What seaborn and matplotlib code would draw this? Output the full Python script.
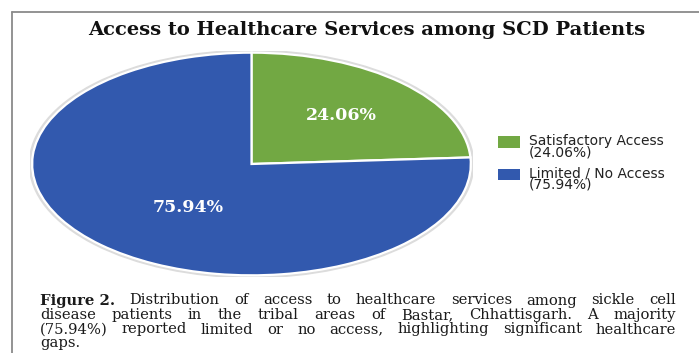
import matplotlib
matplotlib.use("Agg")
import matplotlib.pyplot as plt
from matplotlib.lines import Line2D
from matplotlib.patches import Ellipse, Patch, Rectangle
from matplotlib.legend_handler import HandlerPatch
import seaborn as sns

# Data
categories = ["Satisfactory Access", "Limited / No Access"]
shares = [24.06, 75.94]
title = "Access to Healthcare Services among SCD Patients"
caption_lines = [
    [("Figure 2.", "bold"), ("Distribution of access to healthcare services among sickle cell", "normal")],
    [("disease patients in the tribal areas of Bastar, Chhattisgarh. A majority", "normal")],
    [("(75.94%) reported limited or no access, highlighting significant healthcare", "normal")],
    [("gaps.", "normal")],
]

sns.set_theme(style="white")
plt.rcParams["font.family"] = ["DejaVu Serif"]
colors = sns.color_palette(["#72A843", "#3259AE"])

W, H = 699, 353
fig = plt.figure(figsize=(W / 100, H / 100), dpi=100)
fig.patch.set_facecolor("white")

def fx(px):
    return px / W

def fy(py):
    return 1 - py / H

# Panel frame (left and top edges)
fig.add_artist(Line2D([fx(11.5), fx(11.5)], [fy(11.5), 0], transform=fig.transFigure,
                      color="#8a8a8a", lw=1.3))
fig.add_artist(Line2D([fx(11.5), 1], [fy(11.5), fy(11.5)], transform=fig.transFigure,
                      color="#8a8a8a", lw=1.3))

# Title
fig.text(fx(367), fy(30), title, ha="center", va="center", fontsize=14,
         fontweight="bold", color="#111111")

# Pie
ax = fig.add_axes([fx(30), fy(277), fx(443), (277 - 51) / H])
ax.add_patch(Ellipse((0, 0), 2.02, 2.03, facecolor="none", edgecolor="#dcdcdc", lw=2, zorder=0))
wedges, texts, autotexts = ax.pie(
    shares, colors=colors, startangle=90, counterclock=False,
    autopct=lambda p: f"{p:.2f}%", pctdistance=0.6,
    wedgeprops=dict(edgecolor="white", linewidth=1.6),
    textprops=dict(color="white", fontweight="bold", fontsize=12.5),
)
# the large share's label sits a little closer to the centre
autotexts[1].set_position((-0.29, -0.39))
ax.set_aspect("auto")
ax.set_xlim(-1.01, 1.01)
ax.set_ylim(-1.015, 1.015)
ax.axis("off")


def swatch(legend, orig_handle, xdescent, ydescent, width, height, fontsize):
    # colour key lifted to line up with the first line of its two-line label
    return Rectangle((-xdescent, -ydescent + 4.0), width, height)


# Legend
handles = [Patch(facecolor=c, edgecolor="none") for c in colors]
labels = [f"{n}\n({v:.2f}%)" for n, v in zip(categories, shares)]
leg = fig.legend(handles, labels, loc="upper left", bbox_to_anchor=(fx(498), fy(134)),
                 frameon=False, prop=dict(family="DejaVu Sans", size=10),
                 handlelength=1.6, handleheight=0.85, handletextpad=0.65,
                 labelspacing=0.45, borderaxespad=0, borderpad=0, labelcolor="#222222",
                 handler_map={Patch: HandlerPatch(patch_func=swatch)})
for t in leg.get_texts():
    t.set_linespacing(0.8)

# Justified caption: the bold figure number stays one token, body words spread
fig.canvas.draw()
renderer = fig.canvas.get_renderer()
x_left, x_right = 40, 676
baselines = [304.5, 319, 333.5, 347.5]
for i, (line, yb) in enumerate(zip(caption_lines, baselines)):
    words = []
    for chunk, weight in line:
        if weight == "bold":
            words.append((chunk, weight))
        else:
            words.extend((w, weight) for w in chunk.split(" "))
    artists = []
    widths = []
    for w, weight in words:
        t = fig.text(0, fy(yb), w, fontsize=10.6, fontweight=weight, va="baseline",
                     ha="left", color="#1a1a1a")
        bb = t.get_window_extent(renderer)
        artists.append(t)
        widths.append(bb.width)
    justify = i < len(caption_lines) - 1
    if justify and len(words) > 1:
        gap = (x_right - x_left - sum(widths)) / (len(words) - 1)
    else:
        gap = 4.0
    x = x_left
    for t, wd in zip(artists, widths):
        t.set_x(fx(x))
        x += wd + gap

fig.savefig("out.png", dpi=100, facecolor="white")
